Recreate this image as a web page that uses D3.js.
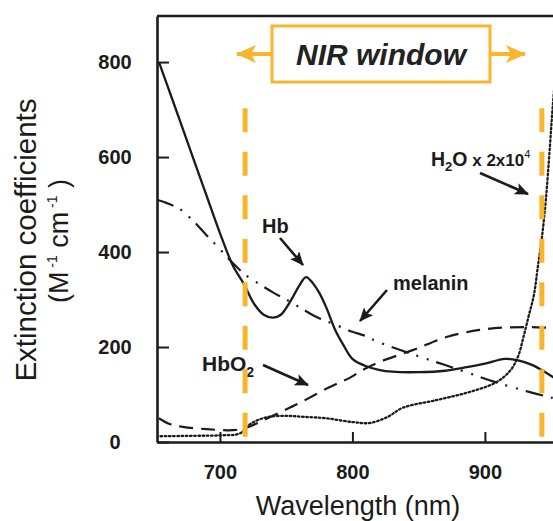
<!DOCTYPE html>
<html>
<head>
<meta charset="utf-8">
<script src="https://cdn.jsdelivr.net/npm/d3@7"></script>
<style>
  html, body { margin: 0; padding: 0; background: #fff; }
  svg { display: block; font-family: "Liberation Sans", Arial, Helvetica, sans-serif; }
</style>
</head>
<body>
<svg id="chart" width="553" height="521"></svg>
<script>
// Absorption spectra of the main tissue chromophores (M^-1 cm^-1)
const hbWavelengths = [654, 660, 670, 680, 690, 700, 710, 718, 726, 733, 740, 746, 755, 760, 765, 770, 775, 780, 787, 793, 800, 810, 820, 830, 850, 870, 885, 900, 915, 925, 935, 945, 955];
const hbValues      = [800, 753, 675, 596, 518, 440, 370, 333, 290, 268, 262, 268, 305, 330, 347, 335, 314, 285, 236, 205, 175, 160, 152, 148, 147, 150, 157, 165, 175, 172, 163, 148, 130];

const hbo2Wavelengths = [654, 662, 672, 690, 710, 720, 730, 745, 760, 783, 798, 808, 820, 846, 871, 896, 915, 934, 951, 962];
const hbo2Values      = [50, 38, 32, 27, 25, 30, 42, 62, 82, 116, 135, 152, 168, 194, 221, 236, 241, 242, 240, 239];

const melaninWavelengths = [652, 660, 670, 680, 690, 700, 710, 720, 730, 740, 750, 760, 773, 788, 800, 808, 820, 841, 858, 870, 888, 908, 934, 951, 962];
const melaninValues      = [510, 503, 490, 465, 435, 406, 376, 350, 332, 315, 300, 284, 263, 246, 232, 225, 210, 189, 173, 162, 145, 126, 105, 93, 86];

// water, scaled by 2x10^4
const waterWavelengths = [652, 680, 700, 715, 723, 735, 750, 763, 780, 800, 813, 826, 838, 863, 888, 908, 919, 925, 929, 933, 937, 940, 943, 946, 949, 951, 954, 957];
const waterValues      = [12, 13, 14, 18, 38, 52, 55, 53, 50, 42, 40, 52, 72, 88, 105, 125, 150, 180, 220, 265, 310, 370, 430, 510, 620, 700, 800, 900];

const xTicks = [700, 800, 900];
const yTicks = [0, 200, 400, 600, 800];
const windowEdges = [719, 943];

const ORANGE = "#F8B62C";
const INK = "#1b1b1b";

const svg = d3.select("#chart");

const x = d3.scaleLinear().domain([652.5, 960]).range([157, 564.4]);
const y = d3.scaleLinear().domain([0, 897]).range([442, 16]);

const defs = svg.append("defs");
defs.append("clipPath").attr("id", "plotClip")
  .append("rect")
  .attr("x", x.range()[0]).attr("y", y.range()[1])
  .attr("width", x.range()[1] - x.range()[0])
  .attr("height", y.range()[0] - y.range()[1]);

defs.append("marker")
  .attr("id", "blackHead")
  .attr("markerUnits", "userSpaceOnUse")
  .attr("viewBox", "0 0 14 12")
  .attr("refX", 13).attr("refY", 6)
  .attr("markerWidth", 14).attr("markerHeight", 12)
  .attr("orient", "auto")
  .append("path").attr("d", "M0,0 L14,6 L0,12 L3,6 Z").attr("fill", INK);

defs.append("marker")
  .attr("id", "orangeHead")
  .attr("markerUnits", "userSpaceOnUse")
  .attr("viewBox", "0 0 20 18")
  .attr("refX", 19).attr("refY", 9)
  .attr("markerWidth", 20).attr("markerHeight", 18)
  .attr("orient", "auto")
  .append("path").attr("d", "M0,0 L20,9 L0,18 L5,9 Z").attr("fill", ORANGE);

// Curves
const plot = svg.append("g").attr("clip-path", "url(#plotClip)");
const line = d3.line().x(d => x(d[0])).y(d => y(d[1])).curve(d3.curveCatmullRom.alpha(0.5));
const series = [
  { w: waterWavelengths, v: waterValues, dash: "1.6,2.6", width: 2.3, cap: "round" },
  { w: hbo2Wavelengths, v: hbo2Values, dash: "14,8", width: 2.2, cap: "butt" },
  { w: melaninWavelengths, v: melaninValues, dash: "18,8,2,9,2,8", width: 2.2, cap: "butt" },
  { w: hbWavelengths, v: hbValues, dash: null, width: 2.3, cap: "butt" }
];
series.forEach(s => {
  plot.append("path")
    .datum(d3.zip(s.w, s.v))
    .attr("d", line)
    .attr("fill", "none")
    .attr("stroke", INK)
    .attr("stroke-width", s.width)
    .attr("stroke-linecap", s.cap)
    .attr("stroke-dasharray", s.dash);
});

// Axes with inward ticks
const yAxis = svg.append("g")
  .attr("transform", `translate(${x.range()[0]},0)`)
  .call(d3.axisLeft(y).tickValues(yTicks).tickSizeInner(-12).tickSizeOuter(0).tickPadding(25));
const xAxis = svg.append("g")
  .attr("transform", `translate(0,${y.range()[0]})`)
  .call(d3.axisBottom(x).tickValues(xTicks).tickSizeInner(-10).tickSizeOuter(0).tickPadding(23));

[yAxis, xAxis].forEach(a => {
  a.select(".domain").attr("stroke", INK).attr("stroke-width", 2.6);
  a.selectAll(".tick line").attr("stroke", INK).attr("stroke-width", 2);
  a.selectAll(".tick text")
    .attr("fill", INK)
    .attr("font-size", 20)
    .attr("font-weight", "bold")
    .attr("font-family", "'Liberation Sans', Arial, sans-serif");
});
yAxis.selectAll(".tick text").attr("text-anchor", "middle").attr("x", -42);

// Top frame edge
svg.append("line")
  .attr("x1", x.range()[0]).attr("x2", x.range()[1])
  .attr("y1", y.range()[1]).attr("y2", y.range()[1])
  .attr("stroke", INK).attr("stroke-width", 2.6);

// Axis titles
svg.append("text")
  .attr("x", 358).attr("y", 515)
  .attr("text-anchor", "middle")
  .attr("font-size", 27)
  .attr("fill", INK)
  .text("Wavelength (nm)");

svg.append("text")
  .attr("transform", "translate(36,240) rotate(-90)")
  .attr("text-anchor", "middle")
  .attr("font-size", 29.5)
  .attr("fill", INK)
  .text("Extinction coefficients");

const unit = svg.append("text")
  .attr("transform", "translate(68,241) rotate(-90)")
  .attr("text-anchor", "middle")
  .attr("font-size", 27)
  .attr("fill", INK);
unit.append("tspan").text("(M");
unit.append("tspan").attr("font-size", 14).attr("dy", -11).text(" -1");
unit.append("tspan").attr("dy", 11).text(" cm");
unit.append("tspan").attr("font-size", 14).attr("dy", -11).text(" -1");
unit.append("tspan").attr("dy", 11).text(" )");

// Curve labels and pointer arrows
const labels = svg.append("g").attr("fill", INK).attr("font-weight", "bold");
labels.append("text").attr("x", 262).attr("y", 233).attr("font-size", 20).text("Hb");
labels.append("text").attr("x", 393).attr("y", 290).attr("font-size", 20).text("melanin");

const hbo2 = labels.append("text").attr("x", 202).attr("y", 371).attr("font-size", 21);
hbo2.append("tspan").text("HbO");
hbo2.append("tspan").attr("font-size", 14).attr("dy", 6).text("2");

const water = labels.append("text").attr("x", 431).attr("y", 166).attr("font-size", 19.5);
water.append("tspan").text("H");
water.append("tspan").attr("font-size", 13).attr("dy", 5).text("2");
water.append("tspan").attr("dy", -5).text("O");
water.append("tspan").attr("font-size", 17).text(" x 2x10");
water.append("tspan").attr("font-size", 11).attr("font-weight", "normal").attr("dy", -8).text("4");

const pointers = [
  [280, 238, 303, 265],
  [387, 290, 360, 321],
  [263, 365, 308, 385],
  [480, 173, 528, 194]
];
svg.append("g").selectAll("line").data(pointers).join("line")
  .attr("x1", d => d[0]).attr("y1", d => d[1])
  .attr("x2", d => d[2]).attr("y2", d => d[3])
  .attr("stroke", INK).attr("stroke-width", 2.6)
  .attr("marker-end", "url(#blackHead)");

// NIR window boundaries
svg.append("g").selectAll("line").data(windowEdges).join("line")
  .attr("x1", d => x(d)).attr("x2", d => x(d))
  .attr("y1", y(703)).attr("y2", y(10))
  .attr("stroke", ORANGE).attr("stroke-width", 5)
  .attr("stroke-dasharray", "24,19.5");

// NIR window banner
const banner = svg.append("g");
banner.append("rect")
  .attr("x", 272).attr("y", 26).attr("width", 218).attr("height", 56)
  .attr("fill", "#fff").attr("stroke", ORANGE).attr("stroke-width", 3);
banner.append("text")
  .attr("x", 381).attr("y", 65)
  .attr("text-anchor", "middle")
  .attr("font-size", 30).attr("font-weight", "bold").attr("font-style", "italic")
  .attr("fill", "#222")
  .text("NIR window");
banner.append("line")
  .attr("x1", 272).attr("x2", 237).attr("y1", 54).attr("y2", 54)
  .attr("stroke", ORANGE).attr("stroke-width", 4)
  .attr("marker-end", "url(#orangeHead)");
banner.append("line")
  .attr("x1", 490).attr("x2", 525).attr("y1", 54).attr("y2", 54)
  .attr("stroke", ORANGE).attr("stroke-width", 4)
  .attr("marker-end", "url(#orangeHead)");
</script>
</body>
</html>
